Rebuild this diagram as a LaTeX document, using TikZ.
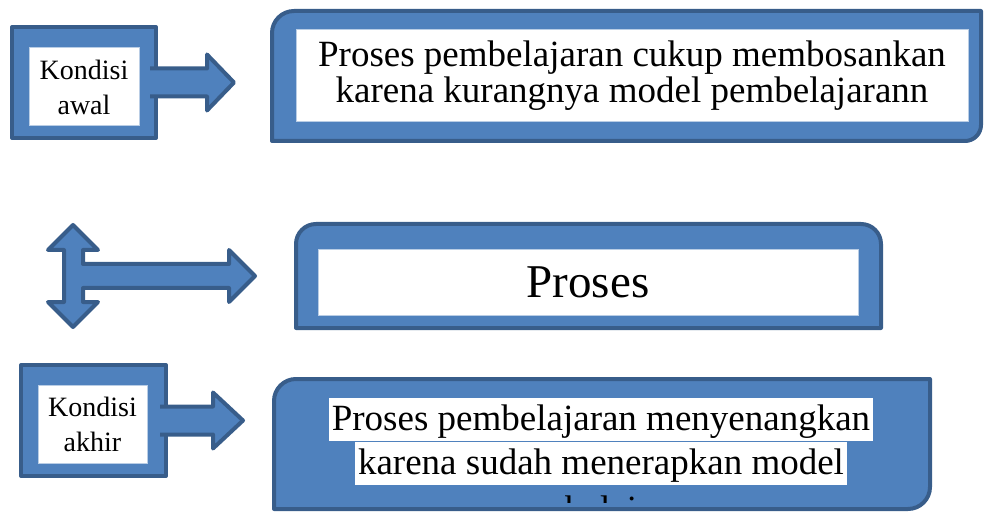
\documentclass[tikz,border=0pt]{standalone}
\usepackage{fontspec}
\setmainfont{Liberation Serif}
\usetikzlibrary{positioning}
\definecolor{biru}{RGB}{79,129,189}
\definecolor{birutua}{RGB}{56,93,138}
\definecolor{tepi}{RGB}{185,205,229}
\begin{document}
\begin{tikzpicture}[x=1pt, y=1pt
		,blok/.style={fill=biru, draw=birutua, line width=4pt, line join=round}
		,bingkai/.style={inner sep=0pt, outer sep=0pt}
		,isi/.style={fill=white, draw=tepi, line width=1pt, align=center, inner sep=0pt}
		,kecil/.style={font=\fontsize{28}{35}\selectfont}
		,baris/.style={fill=white, inner xsep=3pt, inner ysep=0pt, text height=32.5pt, text depth=10.5pt, font=\fontsize{37}{36}\selectfont}
	]
	\useasboundingbox (0,0) rectangle (985,512);
	% kondisi awal
	\node [blok, bingkai, minimum width=144pt, minimum height=111pt] (awal) at (84,429.5) {};
	\node [isi, kecil, minimum width=110pt, minimum height=78pt] (awalteks) at (84,425) {Kondisi\\awal};
	\draw [blok] ([xshift=-6pt, yshift=14pt]awal.east) -- ++(57,0) -- ++(0,14) -- ++(27,-28) -- ++(-27,-28) -- ++(0,14) -- ++(-57,0);
	\node [bingkai, minimum width=709pt, minimum height=130pt] (masalah) at (626.5,436) {};
	\draw [blok] (masalah.south west) -- ([yshift=-22pt]masalah.north west) arc [start angle=180, end angle=90, radius=22pt]
		-- (masalah.north east) -- ([yshift=16pt]masalah.south east) arc [start angle=0, end angle=-90, radius=16pt] -- cycle;
	\node [isi, font=\fontsize{37}{36}\selectfont, minimum width=672pt, minimum height=92pt] (masalahteks) at (632,436)
		{Proses pembelajaran cukup membosankan\\karena kurangnya model pembelajarann};
	% proses
	\coordinate (silang) at (73,236);
	\draw [blok] ([yshift=51pt]silang) -- ++(25,-25) -- ++(-15,0) -- ++(0,-14) -- ++(146,0) -- ++(0,14) -- ++(26,-26)
		-- ++(-26,-26) -- ++(0,14) -- ++(-146,0) -- ++(0,-14) -- ++(15,0) -- ++(-25,-25) -- ++(-25,25)
		-- ++(16,0) -- ++(0,52) -- ++(-16,0) -- cycle;
	\node [bingkai, minimum width=585pt, minimum height=104pt] (proses) at (588.5,236) {};
	\draw [blok] (proses.south west) -- ([yshift=-20pt]proses.north west) arc [start angle=180, end angle=90, radius=20pt]
		-- ([xshift=-20pt]proses.north east) arc [start angle=90, end angle=0, radius=20pt] -- (proses.south east) -- cycle;
	\node [isi, font=\fontsize{47}{50}\selectfont, minimum width=540pt, minimum height=65pt] (prosesteks) at (588,229.5) {Proses};
	% kondisi akhir
	\node [blok, bingkai, minimum width=145pt, minimum height=111pt] (akhir) at (93.5,91.5) {};
	\node [isi, kecil, minimum width=109pt, minimum height=78pt] (akhirteks) at (92.5,88) {Kondisi\\akhir};
	\draw [blok] ([xshift=-6pt, yshift=14pt]akhir.east) -- ++(53,0) -- ++(0,14) -- ++(30,-28) -- ++(-30,-28) -- ++(0,14) -- ++(-53,0);
	\node [bingkai, minimum width=656pt, minimum height=130pt] (hasil) at (602,68) {};
	\draw [blok] (hasil.south west) -- ([yshift=-22pt]hasil.north west) arc [start angle=180, end angle=90, radius=22pt]
		-- (hasil.north east) -- ([yshift=22pt]hasil.south east) arc [start angle=0, end angle=-90, radius=22pt] -- cycle;
	\node [baris, anchor=north] (hasil1) at (601,114) {Proses pembelajaran menyenangkan};
	\node [baris, below=0pt of hasil1] (hasil2) {karena sudah menerapkan model};
	\begin{scope}
		\clip ([yshift=7pt]hasil.south west) rectangle (hasil.north east);
		\node [baris, fill=none, below=4pt of hasil2] (hasil3) {pembelajaran};
	\end{scope}
\end{tikzpicture}
\end{document}
